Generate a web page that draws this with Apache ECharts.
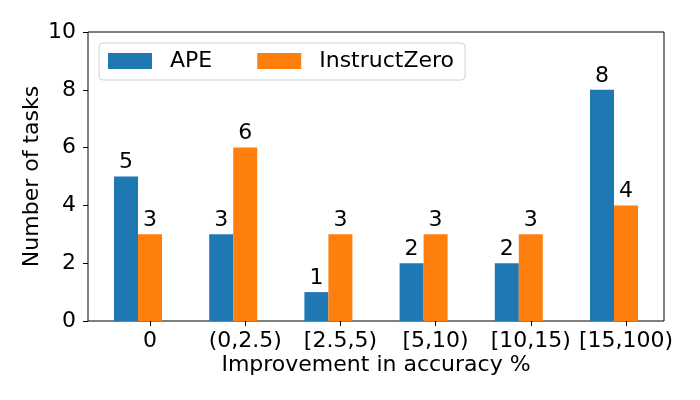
<!DOCTYPE html>
<html>
<head>
<meta charset="utf-8">
<script src="https://cdn.jsdelivr.net/npm/echarts@6/dist/echarts.min.js"></script>
<style>html,body{margin:0;padding:0;background:#fff;}#c{width:700px;height:400px;}</style>
</head>
<body>
<div id="c"></div>
<script>
const categories = ['0', '(0,2.5)', '[2.5,5)', '[5,10)', '[10,15)', '[15,100)'];
const apeCounts = [5, 3, 1, 2, 2, 8];
const instructZeroCounts = [3, 6, 3, 3, 3, 4];
const seriesNames = ['APE', 'InstructZero'];
const yMin = 0, yMax = 10, yStep = 2;

const FONT = 'DejaVu Sans';
const chart = echarts.init(document.getElementById('c'), null, {renderer: 'canvas'});
const gTop = 32, gBottom = 79;
chart.setOption({
  animation: false,
  textStyle: {fontFamily: FONT},
  grid: [
    {left: 88, right: 36, top: gTop, bottom: gBottom, show: true, borderColor: '#000', borderWidth: 1, backgroundColor: 'transparent'},
    {left: 90.4, right: 38.4, top: gTop, bottom: gBottom},
    {left: 102.4, right: 26.4, top: gTop, bottom: gBottom}
  ],
  legend: {
    data: seriesNames,
    left: 99, top: 43,
    itemWidth: 44, itemHeight: 16, itemGap: 45,
    padding: [7, 11, 8, 9],
    backgroundColor: 'rgba(255,255,255,0.8)',
    borderColor: '#d0d0d0', borderWidth: 1, borderRadius: 4,
    icon: 'rect',
    textStyle: {fontSize: 22, color: '#000', fontFamily: FONT, padding: [0, 0, 0, 13]}
  },
  xAxis: [
    {gridIndex: 0, type: 'value', min: 0, max: 1, show: true,
     name: 'Improvement in accuracy %', nameLocation: 'middle', nameGap: 33,
     nameTextStyle: {fontSize: 22, color: '#000', fontFamily: FONT},
     axisLine: {show: false}, axisTick: {show: false}, axisLabel: {show: false}, splitLine: {show: false}},
    {gridIndex: 1, type: 'category', data: categories, show: false},
    {gridIndex: 2, type: 'category', data: categories,
     axisLine: {show: false},
     axisTick: {show: true, alignWithLabel: true, interval: 0, length: 5, lineStyle: {color: '#000', width: 1}},
     axisLabel: {interval: 0, fontSize: 22, color: '#000', fontFamily: FONT, margin: 9},
     splitLine: {show: false}}
  ],
  yAxis: [
    {gridIndex: 0, type: 'value', min: yMin, max: yMax, interval: yStep,
     name: 'Number of tasks', nameLocation: 'middle', nameGap: 45, nameRotate: 90,
     nameMoveOverlap: false,
     nameTextStyle: {fontSize: 22, color: '#000', fontFamily: FONT},
     axisLine: {show: false},
     axisTick: {show: true, length: 5, lineStyle: {color: '#000', width: 1}},
     axisLabel: {fontSize: 22, color: '#000', fontFamily: FONT, margin: 12},
     splitLine: {show: false}},
    {gridIndex: 1, type: 'value', min: yMin, max: yMax, show: false, splitLine: {show: false}},
    {gridIndex: 2, type: 'value', min: yMin, max: yMax, show: false, splitLine: {show: false}}
  ],
  series: [
    {name: seriesNames[0], type: 'bar', xAxisIndex: 1, yAxisIndex: 1, data: apeCounts,
     barWidth: 24, barGap: '0%', itemStyle: {color: '#1f77b4'},
     label: {show: true, position: 'top', distance: 3, fontSize: 22, color: '#000', fontFamily: FONT}},
    {name: seriesNames[1], type: 'bar', xAxisIndex: 1, yAxisIndex: 1, data: instructZeroCounts,
     barWidth: 24, barGap: '0%', itemStyle: {color: '#ff7f0e'},
     label: {show: true, position: 'top', distance: 3, fontSize: 22, color: '#000', fontFamily: FONT}}
  ]
});
</script>
</body>
</html>
